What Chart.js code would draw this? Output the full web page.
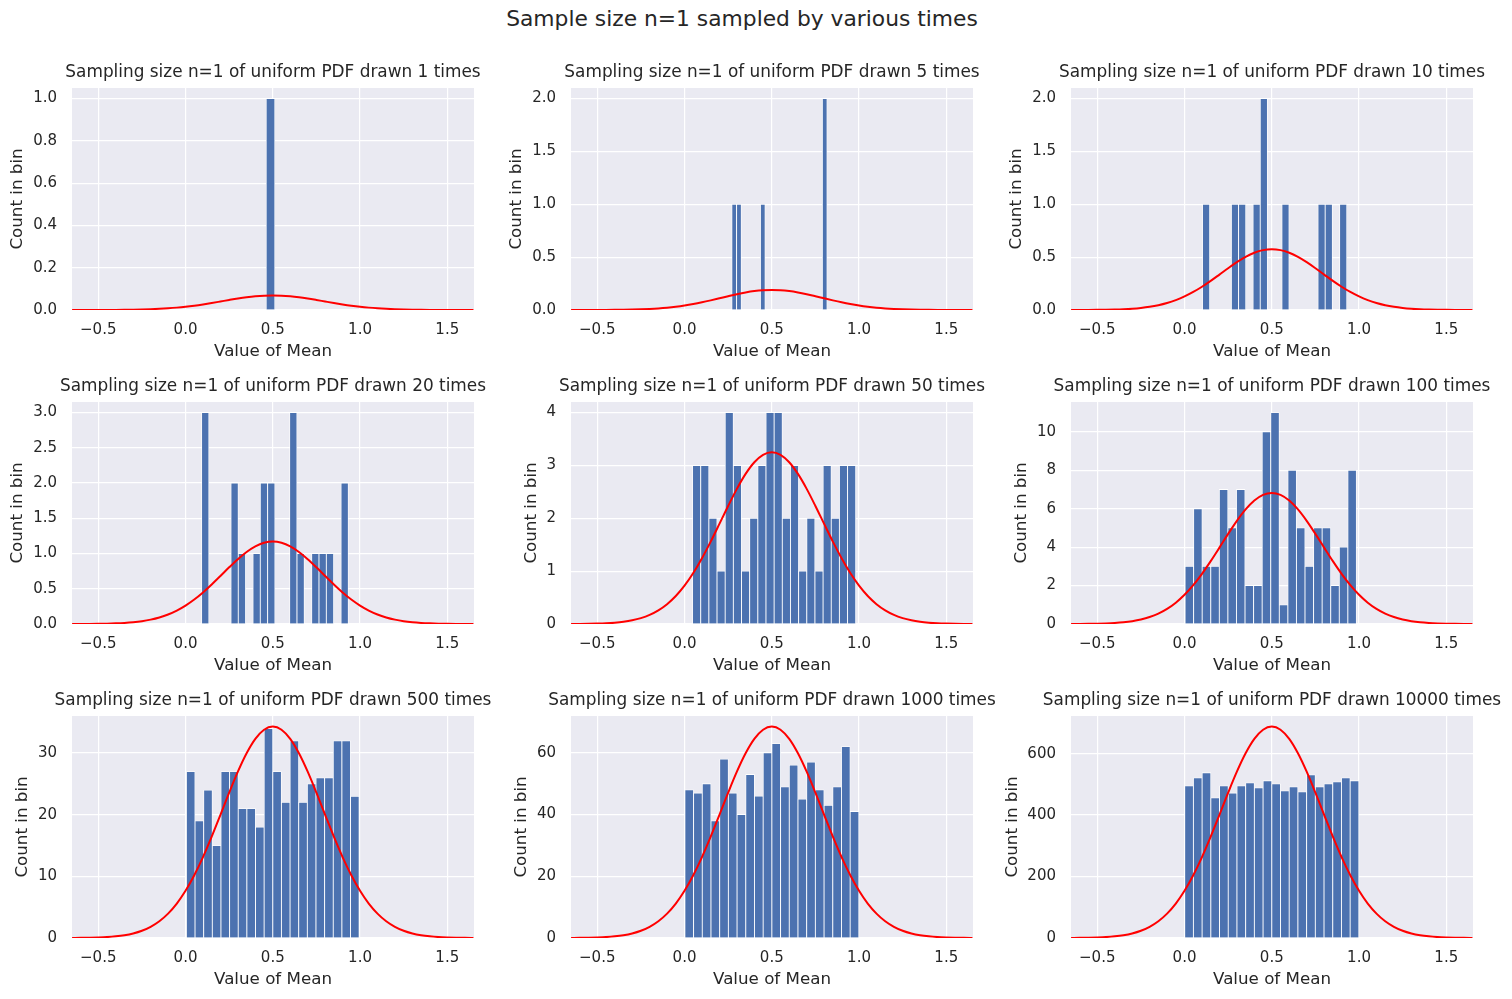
<!DOCTYPE html>
<html>
<head>
<meta charset="utf-8">
<script src="https://cdn.jsdelivr.net/npm/chart.js@4.4.1/dist/chart.umd.min.js"></script>
<style>
html,body{margin:0;padding:0;background:#ffffff;width:1512px;height:999px;overflow:hidden;}
#wrap{position:relative;width:1512px;height:999px;}
#wrap canvas{position:absolute;}
#sup{position:absolute;left:242px;top:5px;width:1000px;text-align:center;font-family:"DejaVu Sans";font-size:21.8px;line-height:28px;color:#262626;white-space:nowrap;}
</style>
</head>
<body>
<div id="wrap"><div id="sup">Sample size n=1 sampled by various times</div></div>
<script>
// ---------------- data ----------------
const sampleCounts = [1, 5, 10, 20, 50, 100, 500, 1000, 10000];
// histogram range (min and max of the sample) for each panel, 20 bins each
const binLo = [-0.038, 0.271, 0.103, 0.092, 0.046, 0.003, 0.005, 0.002, 0.001];
const binHi = [0.962, 0.817, 0.930, 0.933, 0.981, 0.985, 0.995, 0.999, 0.999];
const counts1 = [0,0,0,0,0,0,0,0,0,0,1,0,0,0,0,0,0,0,0,0];
const counts5 = [1,1,0,0,0,0,1,0,0,0,0,0,0,0,0,0,0,0,0,2];
const counts10 = [1,0,0,0,1,1,0,1,2,0,0,1,0,0,0,0,1,1,0,1];
const counts20 = [3,0,0,0,2,1,0,1,2,2,0,0,3,1,0,1,1,1,0,2];
const counts50 = [3,3,2,1,4,3,1,2,3,4,4,2,3,1,2,1,3,2,3,3];
const counts100 = [3,6,3,3,7,5,7,2,2,10,11,1,8,5,3,5,5,2,4,8];
const counts500 = [27,19,24,15,27,27,21,21,18,34,27,22,32,22,25,26,26,32,32,23];
const counts1000 = [48,47,50,38,58,47,40,53,46,60,63,49,56,45,57,48,43,49,62,41];
const counts10000 = [495,521,538,456,495,472,495,505,489,512,502,479,492,476,531,492,502,508,521,512];
const allCounts = [counts1, counts5, counts10, counts20, counts50, counts100, counts500, counts1000, counts10000];
// peak height of the red normal curve in each panel
const curvePeak = [0.069, 0.19, 0.575, 1.17, 3.25, 6.82, 34.3, 68.5, 688];
// red curve: x positions and relative height (normal shape, mean 0.5)
const curveX = [-0.65,-0.60,-0.55,-0.50,-0.45,-0.40,-0.35,-0.30,-0.25,-0.20,-0.15,-0.10,-0.05,0.00,0.05,0.10,0.15,0.20,0.25,0.30,0.35,0.40,0.45,0.50,
                0.55,0.60,0.65,0.70,0.75,0.80,0.85,0.90,0.95,1.00,1.05,1.10,1.15,1.20,1.25,1.30,1.35,1.40,1.45,1.50,1.55,1.60,1.65];
const curveShape = [0.0004,0.0007,0.0013,0.0025,0.0044,0.0078,0.0131,0.0215,0.0342,0.0529,0.0793,0.1153,0.1628,0.2231,0.2967,0.3829,0.4795,0.5827,0.6873,0.7866,0.8737,0.9418,0.9851,1.0,
                    0.9851,0.9418,0.8737,0.7866,0.6873,0.5827,0.4795,0.3829,0.2967,0.2231,0.1628,0.1153,0.0793,0.0529,0.0342,0.0215,0.0131,0.0078,0.0044,0.0025,0.0013,0.0007,0.0004];
// tick labels
const xTickLabels = ['\u22120.5', '0.0', '0.5', '1.0', '1.5'];
const yTickLabels = [
  ['0.0','0.2','0.4','0.6','0.8','1.0'],
  ['0.0','0.5','1.0','1.5','2.0'],
  ['0.0','0.5','1.0','1.5','2.0'],
  ['0.0','0.5','1.0','1.5','2.0','2.5','3.0'],
  ['0','1','2','3','4'],
  ['0','2','4','6','8','10'],
  ['0','10','20','30'],
  ['0','20','40','60'],
  ['0','200','400','600']
];
const xMin = -0.6505, xMax = 1.653;

// ---------------- layout ----------------
const colLeft = [72, 571, 1071], rowTop = [88, 402, 716];
const PW = 402, PH = 222, AXL = 72, TOP = 40, BOT = 60, RIGHT = 72;
const TXT = '#262626';
const FONT = 'DejaVu Sans';
const TICK_SIZE = 15, LABEL_SIZE = 16.7, TITLE_SIZE = 16.9, YTICK_PAD = 15, YTITLE_GAP = 5;

const toNum = s => parseFloat(s.replace('\u2212', '-'));
const xTickVals = xTickLabels.map(toNum);

// text measurement helper (for placing the y-axis title next to its tick labels)
const mctx = document.createElement('canvas').getContext('2d');
mctx.font = TICK_SIZE + 'px "' + FONT + '"';

const bgPlugin = {
  id: 'bgPanel',
  beforeDraw(chart) {
    const a = chart.chartArea, ctx = chart.ctx;
    ctx.save();
    ctx.fillStyle = '#eaeaf2';
    ctx.fillRect(a.left, a.top, a.right - a.left, a.bottom - a.top);
    ctx.restore();
  }
};
const titlePlugin = {
  id: 'panelTitle',
  afterDraw(chart, args, opts) {
    const a = chart.chartArea, ctx = chart.ctx;
    ctx.save();
    ctx.fillStyle = TXT;
    ctx.font = TITLE_SIZE + 'px "' + FONT + '"';
    ctx.textAlign = 'center';
    ctx.textBaseline = 'middle';
    ctx.fillText(opts.text, (a.left + a.right) / 2, a.top - 15);
    ctx.restore();
  }
};

const wrap = document.getElementById('wrap');
sampleCounts.forEach((n, i) => {
  const r = Math.floor(i / 3), c = i % 3;
  const cv = document.createElement('canvas');
  cv.width = AXL + PW + RIGHT; cv.height = TOP + PH + BOT;
  cv.style.left = (colLeft[c] - AXL) + 'px';
  cv.style.top = (rowTop[r] - TOP) + 'px';
  cv.style.width = cv.width + 'px'; cv.style.height = cv.height + 'px';
  wrap.appendChild(cv);

  const cnt = allCounts[i];
  const bw = (binHi[i] - binLo[i]) / cnt.length;
  const bars = cnt.map((v, k) => ({ x: binLo[i] + (k + 0.5) * bw, y: v }));
  const curve = curveX.map((x, j) => ({ x: x, y: curvePeak[i] * curveShape[j] }));
  const yLabels = yTickLabels[i];
  const yVals = yLabels.map(toNum);
  const yMax = 1.05 * Math.max(Math.max(...cnt), curvePeak[i]);

  // y title centre = AXL - (widest tick + tick pad + gap + half line height)
  const tickW = Math.max(...yLabels.map(s => mctx.measureText(s).width));
  const lh = LABEL_SIZE * 1.2;
  const yTitlePadTop = Math.max(0, AXL - tickW - YTICK_PAD - YTITLE_GAP - lh);

  new Chart(cv, {
    data: {
      datasets: [
        { type: 'line', data: curve, borderColor: '#ff0000', borderWidth: 2, pointRadius: 0,
          cubicInterpolationMode: 'monotone', clip: 0, order: 0 },
        { type: 'bar', data: bars, backgroundColor: '#4c72b0', borderColor: '#ffffff', borderWidth: 0.8,
          borderSkipped: 'start', barPercentage: 1, categoryPercentage: 1, order: 1 }
      ]
    },
    options: {
      responsive: false, animation: false, devicePixelRatio: 1,
      layout: { padding: { left: 0, right: RIGHT, top: TOP, bottom: 0 } },
      plugins: {
        legend: { display: false }, tooltip: { enabled: false },
        panelTitle: { text: 'Sampling size n=1 of uniform PDF drawn ' + n + ' times' }
      },
      scales: {
        x: {
          type: 'linear', min: xMin, max: xMax, bounds: 'data', offset: false,
          grid: { color: '#ffffff', lineWidth: 1.2, drawTicks: false, offset: false },
          border: { display: false },
          afterBuildTicks: s => { s.ticks = xTickVals.map(v => ({ value: v })); },
          afterFit: s => { s.height = BOT; },
          ticks: { padding: 11, color: TXT, font: { family: FONT, size: TICK_SIZE }, maxRotation: 0, autoSkip: false,
                   callback: (v, k) => xTickLabels[k] },
          title: { display: true, text: 'Value of Mean', color: TXT, font: { family: FONT, size: LABEL_SIZE },
                   padding: { top: 0, bottom: 8.5 } }
        },
        y: {
          type: 'linear', min: 0, max: yMax, bounds: 'data',
          grid: { color: '#ffffff', lineWidth: 1.2, drawTicks: false },
          border: { display: false },
          afterBuildTicks: s => { s.ticks = yVals.map(v => ({ value: v })); },
          afterFit: s => { s.width = AXL; },
          ticks: { padding: YTICK_PAD, color: TXT, font: { family: FONT, size: TICK_SIZE }, autoSkip: false,
                   callback: (v, k) => yLabels[k] },
          title: { display: true, text: 'Count in bin', color: TXT, font: { family: FONT, size: LABEL_SIZE },
                   padding: { top: yTitlePadTop, bottom: 0 } }
        }
      }
    },
    plugins: [bgPlugin, titlePlugin]
  });
});
</script>
</body>
</html>
